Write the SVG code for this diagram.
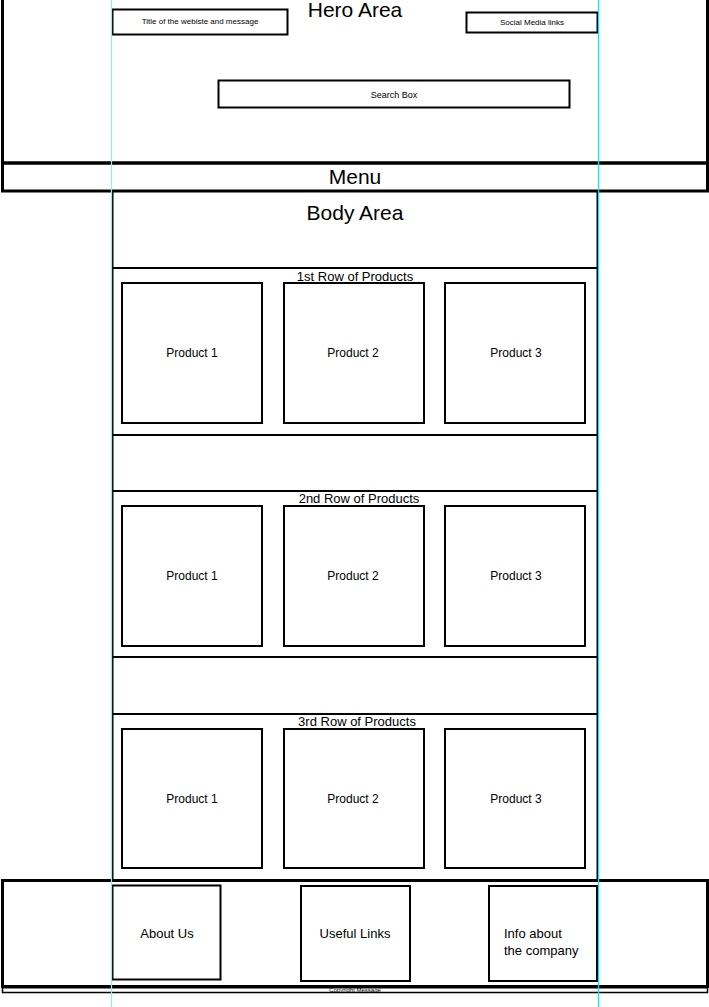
<svg xmlns="http://www.w3.org/2000/svg" width="709" height="1007" viewBox="0 0 709 1007">
<style>
.box{fill:#fff;stroke:#000;stroke-width:2}
.thick{fill:none;stroke:#000;stroke-width:3}
.t{font-family:"Liberation Sans",Arial,sans-serif;fill:#000;text-anchor:middle}
.ts{font-family:"Liberation Sans",Arial,sans-serif;fill:#000;text-anchor:start}
.big{font-size:21px}
.mid{font-size:13px}
.prod{font-size:12px}
.sm{font-size:8px}
.guide{stroke-width:1.2}
</style>
<rect width="709" height="1007" fill="#fff"/>
<g id="hero">
<rect x="2.5" y="-5" width="705" height="168" class="thick"/>
<text x="355" y="17" class="t big">Hero Area</text>
</g>
<g id="title-box">
<rect x="112.5" y="9.5" width="175" height="25" class="box"/>
<text x="200" y="24" class="t sm">Title of the webiste and message</text>
</g>
<g id="social-box">
<rect x="466.5" y="12.5" width="131" height="20" class="box"/>
<text x="532" y="25" class="t sm">Social Media links</text>
</g>
<g id="search-box">
<rect x="218.5" y="80.5" width="351" height="27" class="box"/>
<text x="394" y="98" class="t" font-size="9">Search Box</text>
</g>
<g id="menu">
<rect x="2.5" y="163" width="705" height="28" class="thick" stroke-width="2.5"/>
<text x="355" y="184" class="t big">Menu</text>
</g>
<g id="body">
<rect x="112.5" y="191.5" width="485" height="689" class="box"/>
<text x="355" y="220" class="t big">Body Area</text>
</g>
<g id="row1">
<rect x="112.5" y="268" width="485" height="167" class="box"/>
<text x="355" y="281" class="t mid">1st Row of Products</text>
</g>
<g id="row1-p1"><rect x="122" y="283" width="140" height="140" class="box"/><text x="192" y="357" class="t prod">Product 1</text></g>
<g id="row1-p2"><rect x="284" y="283" width="140" height="140" class="box"/><text x="353" y="357" class="t prod">Product 2</text></g>
<g id="row1-p3"><rect x="445" y="283" width="140" height="140" class="box"/><text x="516" y="357" class="t prod">Product 3</text></g>
<g id="row2">
<rect x="112.5" y="491" width="485" height="166" class="box"/>
<text x="359" y="503" class="t mid">2nd Row of Products</text>
</g>
<g id="row2-p1"><rect x="122" y="506" width="140" height="140" class="box"/><text x="192" y="580" class="t prod">Product 1</text></g>
<g id="row2-p2"><rect x="284" y="506" width="140" height="140" class="box"/><text x="353" y="580" class="t prod">Product 2</text></g>
<g id="row2-p3"><rect x="445" y="506" width="140" height="140" class="box"/><text x="516" y="580" class="t prod">Product 3</text></g>
<g id="row3">
<rect x="112.5" y="714" width="485" height="166" class="box"/>
<text x="357" y="726" class="t mid">3rd Row of Products</text>
</g>
<g id="row3-p1"><rect x="122" y="729" width="140" height="139" class="box"/><text x="192" y="803" class="t prod">Product 1</text></g>
<g id="row3-p2"><rect x="284" y="729" width="140" height="139" class="box"/><text x="353" y="803" class="t prod">Product 2</text></g>
<g id="row3-p3"><rect x="445" y="729" width="140" height="139" class="box"/><text x="516" y="803" class="t prod">Product 3</text></g>
<g id="footer">
<rect x="2.5" y="880.5" width="705" height="106" class="thick" stroke-width="2.5"/>
</g>
<g id="about"><rect x="112.5" y="885.5" width="108" height="94" class="box"/><text x="167" y="938" class="t mid">About Us</text></g>
<g id="links"><rect x="301" y="886" width="109" height="95" class="box"/><text x="355" y="938" class="t mid">Useful Links</text></g>
<g id="info"><rect x="489" y="886" width="108" height="95" class="box"/><text x="504" y="938" class="ts mid">Info about</text><text x="504" y="955" class="ts mid">the company</text></g>
<g id="copyright">
<rect x="2.5" y="987" width="705" height="5.5" fill="#fff" stroke="#000" stroke-width="1.5"/>
<line x1="2" y1="987" x2="708" y2="987" stroke="#000" stroke-width="3"/>
<text x="355" y="991.5" class="t" font-size="6">Copyright Message</text>
</g>
<g id="guides">
<line x1="111.5" y1="0" x2="111.5" y2="1007" stroke="#9ee6e6" class="guide"/>
<line x1="598.5" y1="0" x2="598.5" y2="1007" stroke="#00e8f0" class="guide"/>
</g>
</svg>
